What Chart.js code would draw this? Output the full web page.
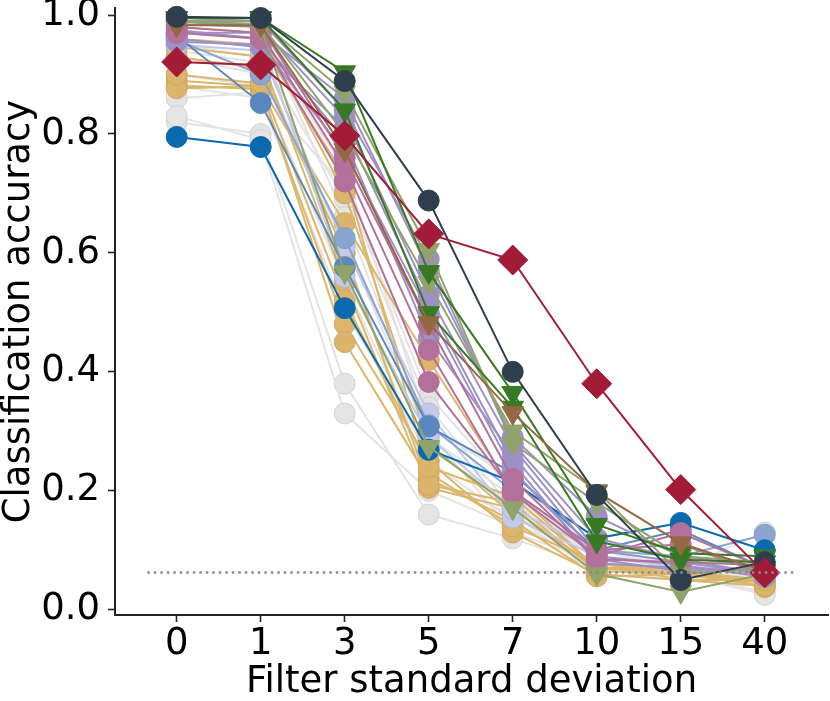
<!DOCTYPE html>
<html>
<head>
<meta charset="UTF-8">
<title>Classification accuracy vs filter standard deviation</title>
<style>
  html, body { margin: 0; padding: 0; background: #fff; }
  #wrap { width: 830px; height: 701px; }
</style>
</head>
<body>
<div id="wrap"><canvas id="chart" width="830" height="701"></canvas></div>
<script src="https://cdn.jsdelivr.net/npm/chart.js"></script>
<script>
// x categories (filter standard deviation)
const xLabels = ['0', '1', '3', '5', '7', '10', '15', '40'];
const yTicks = [0.0, 0.2, 0.4, 0.6, 0.8, 1.0];
const chanceLevel = 0.0625;

// accuracies per model, one row per model, one value per x category
const grayModels = [
  [0.86, 0.87, 0.71, 0.36, 0.20, 0.08, 0.07, 0.13],
  [0.82, 0.80, 0.38, 0.16, 0.12, 0.07, 0.06, 0.03],
  [0.83, 0.79, 0.33, 0.20, 0.14, 0.08, 0.06, 0.025],
  [0.95, 0.93, 0.69, 0.34, 0.17, 0.09, 0.08, 0.05],
  [0.93, 0.90, 0.62, 0.29, 0.19, 0.10, 0.07, 0.06],
  [0.90, 0.88, 0.55, 0.25, 0.15, 0.07, 0.05, 0.04],
  [0.97, 0.96, 0.74, 0.31, 0.22, 0.10, 0.09, 0.07],
  [0.88, 0.86, 0.50, 0.27, 0.18, 0.09, 0.07, 0.05],
  [0.94, 0.92, 0.60, 0.22, 0.16, 0.06, 0.05, 0.04],
  [0.99, 0.98, 0.66, 0.30, 0.13, 0.08, 0.06, 0.05]
];
const goldModels = [
  [0.89, 0.88, 0.65, 0.42, 0.20, 0.07, 0.06, 0.05],
  [0.882, 0.875, 0.48, 0.25, 0.13, 0.06, 0.05, 0.04],
  [0.877, 0.88, 0.45, 0.22, 0.15, 0.056, 0.06, 0.045],
  [0.946, 0.93, 0.55, 0.205, 0.17, 0.07, 0.07, 0.038],
  [0.96, 0.95, 0.73, 0.23, 0.14, 0.08, 0.05, 0.05],
  [0.93, 0.91, 0.60, 0.21, 0.18, 0.065, 0.06, 0.04],
  [0.98, 0.97, 0.70, 0.28, 0.16, 0.075, 0.07, 0.06],
  [0.90, 0.885, 0.52, 0.24, 0.19, 0.07, 0.065, 0.05]
];
const lavenderModels = [
  [0.95, 0.94, 0.61, 0.33, 0.155, 0.09, 0.07, 0.07],
  [0.97, 0.96, 0.56, 0.29, 0.17, 0.10, 0.08, 0.06]
];
const lightBlueModels = [
  [0.958, 0.90, 0.625, 0.31, 0.20, 0.10, 0.09, 0.126]
];
const midBlueModels = [
  [0.965, 0.852, 0.576, 0.308, 0.23, 0.10, 0.134, 0.07]
];
const darkBlueModels = [
  [0.795, 0.778, 0.507, 0.269, 0.215, 0.12, 0.146, 0.10]
];
const purpleModels = [
  [0.97, 0.97, 0.86, 0.571, 0.29, 0.157, 0.09, 0.07],
  [0.985, 0.98, 0.827, 0.529, 0.274, 0.10, 0.08, 0.06],
  [0.96, 0.946, 0.81, 0.513, 0.247, 0.078, 0.07, 0.065],
  [0.975, 0.96, 0.79, 0.457, 0.26, 0.09, 0.075, 0.055],
  [0.99, 0.99, 0.84, 0.59, 0.28, 0.12, 0.085, 0.06],
  [0.955, 0.95, 0.77, 0.50, 0.235, 0.085, 0.065, 0.07]
];
const pinkModels = [
  [0.98, 0.97, 0.745, 0.437, 0.196, 0.09, 0.129, 0.07],
  [0.97, 0.96, 0.72, 0.383, 0.20, 0.10, 0.11, 0.06],
  [0.99, 0.98, 0.76, 0.48, 0.22, 0.085, 0.08, 0.075]
];
const oliveModels = [
  [0.99, 0.98, 0.568, 0.274, 0.171, 0.06, 0.03, 0.06],
  [0.995, 0.99, 0.87, 0.605, 0.28, 0.18, 0.09, 0.08],
  [0.99, 0.985, 0.80, 0.55, 0.30, 0.20, 0.06, 0.07]
];
const darkGreenModels = [
  [0.995, 0.995, 0.904, 0.568, 0.365, 0.143, 0.095, 0.09],
  [0.995, 0.995, 0.84, 0.499, 0.34, 0.115, 0.084, 0.08]
];
const brownModels = [
  [0.983, 0.983, 0.773, 0.482, 0.331, 0.198, 0.112, 0.065]
];
const navyModels = [
  [0.997, 0.995, 0.889, 0.688, 0.40, 0.193, 0.05, 0.08]
];
const humans = [0.921, 0.916, 0.797, 0.632, 0.588, 0.38, 0.202, 0.062];

const FONT = "'DejaVu Sans', sans-serif";
const datasets = [];

function addSet(values, color, edge, shape, lineColor) {
  const isTri = shape === 'tri';
  const isDia = shape === 'dia';
  datasets.push({
    data: values.map((v, i) => ({ x: i, y: v })),
    borderColor: lineColor || color,
    borderWidth: 2,
    backgroundColor: color,
    pointBackgroundColor: color,
    pointBorderColor: edge,
    pointBorderWidth: 1,
    pointStyle: isTri ? 'triangle' : (isDia ? 'rectRot' : 'circle'),
    pointRotation: isTri ? 180 : 0,
    pointRadius: isTri ? 12.5 : (isDia ? 15 : 10.5),
    pointHoverRadius: isTri ? 12.5 : (isDia ? 15 : 10.5),
    tension: 0,
    fill: false,
    clip: false
  });
}

grayModels.forEach(r => addSet(r, '#e4e4e4', '#d2d2d2', 'circle', '#e3e3e3'));
goldModels.forEach(r => addSet(r, '#dbb56b', '#cfa85f', 'circle', '#dcb66d'));
lavenderModels.forEach(r => addSet(r, '#c3c9e6', '#b4bbdc', 'circle'));
lightBlueModels.forEach(r => addSet(r, '#8aa6d0', '#7d99c4', 'circle'));
midBlueModels.forEach(r => addSet(r, '#5a87bd', '#5a87bd', 'circle'));
darkBlueModels.forEach(r => addSet(r, '#0b6aad', '#0b6aad', 'circle'));
purpleModels.forEach(r => addSet(r, '#9d90c6', '#9d90c6', 'circle'));
pinkModels.forEach(r => addSet(r, '#b3709a', '#b3709a', 'circle'));
oliveModels.forEach(r => addSet(r, '#8fa36a', '#8fa36a', 'tri'));
darkGreenModels.forEach(r => addSet(r, '#387a24', '#387a24', 'tri'));
brownModels.forEach(r => addSet(r, '#936842', '#936842', 'tri'));
navyModels.forEach(r => addSet(r, '#2e3e4c', '#2e3e4c', 'circle'));
addSet(humans, '#a31c37', '#a31c37', 'dia');

// chance level (dotted)
datasets.push({
  data: [{ x: -0.35, y: chanceLevel }, { x: 7.35, y: chanceLevel }],
  borderColor: '#8a8a8a',
  borderWidth: 2.5,
  borderDash: [2.5, 4],
  pointRadius: 0,
  fill: false,
  clip: false
});

// later sets drawn on top
datasets.forEach((d, i) => { d.order = datasets.length - i; });

// no extra room for labels at the axis ends
function noPad(axis) {
  axis.paddingTop = 0;
  axis.paddingBottom = 0;
  axis.paddingLeft = 0;
  axis.paddingRight = 0;
}

new Chart(document.getElementById('chart'), {
  type: 'line',
  data: { datasets },
  options: {
    responsive: false,
    animation: false,
    devicePixelRatio: 1,
    layout: { autoPadding: false, padding: { top: 8, right: 2, left: 0, bottom: 0 } },
    plugins: { legend: { display: false }, tooltip: { enabled: false } },
    scales: {
      x: {
        type: 'linear',
        min: -0.7345,
        max: 7.753,
        afterBuildTicks: axis => { axis.ticks = xLabels.map((_, i) => ({ value: i })); },
        afterFit: axis => { axis.height = 86; noPad(axis); },
        ticks: {
          callback: v => xLabels[v],
          color: '#000',
          font: { family: FONT, size: 37 },
          padding: 0,
          maxRotation: 0,
          autoSkip: false
        },
        grid: { drawOnChartArea: false, drawTicks: true, tickLength: 7, tickWidth: 1.6, tickColor: '#222' },
        border: { display: true, color: '#222', width: 2 },
        title: {
          display: true,
          text: 'Filter standard deviation',
          color: '#000',
          font: { family: FONT, size: 37, lineHeight: 1.0 },
          padding: { top: 0, bottom: 0 }
        }
      },
      y: {
        type: 'linear',
        min: -0.0089,
        max: 1.0118,
        afterBuildTicks: axis => { axis.ticks = yTicks.map(v => ({ value: v })); },
        afterFit: axis => { axis.width = 115; noPad(axis); },
        ticks: {
          callback: v => v.toFixed(1),
          color: '#000',
          font: { family: FONT, size: 37 },
          padding: 8
        },
        grid: { drawOnChartArea: false, drawTicks: true, tickLength: 7, tickWidth: 1.6, tickColor: '#222' },
        border: { display: true, color: '#222', width: 2 },
        title: {
          display: true,
          text: 'Classification accuracy',
          color: '#000',
          font: { family: FONT, size: 37, lineHeight: 1.0 },
          padding: { top: 1, bottom: 0 }
        }
      }
    }
  }
});
</script>
</body>
</html>
